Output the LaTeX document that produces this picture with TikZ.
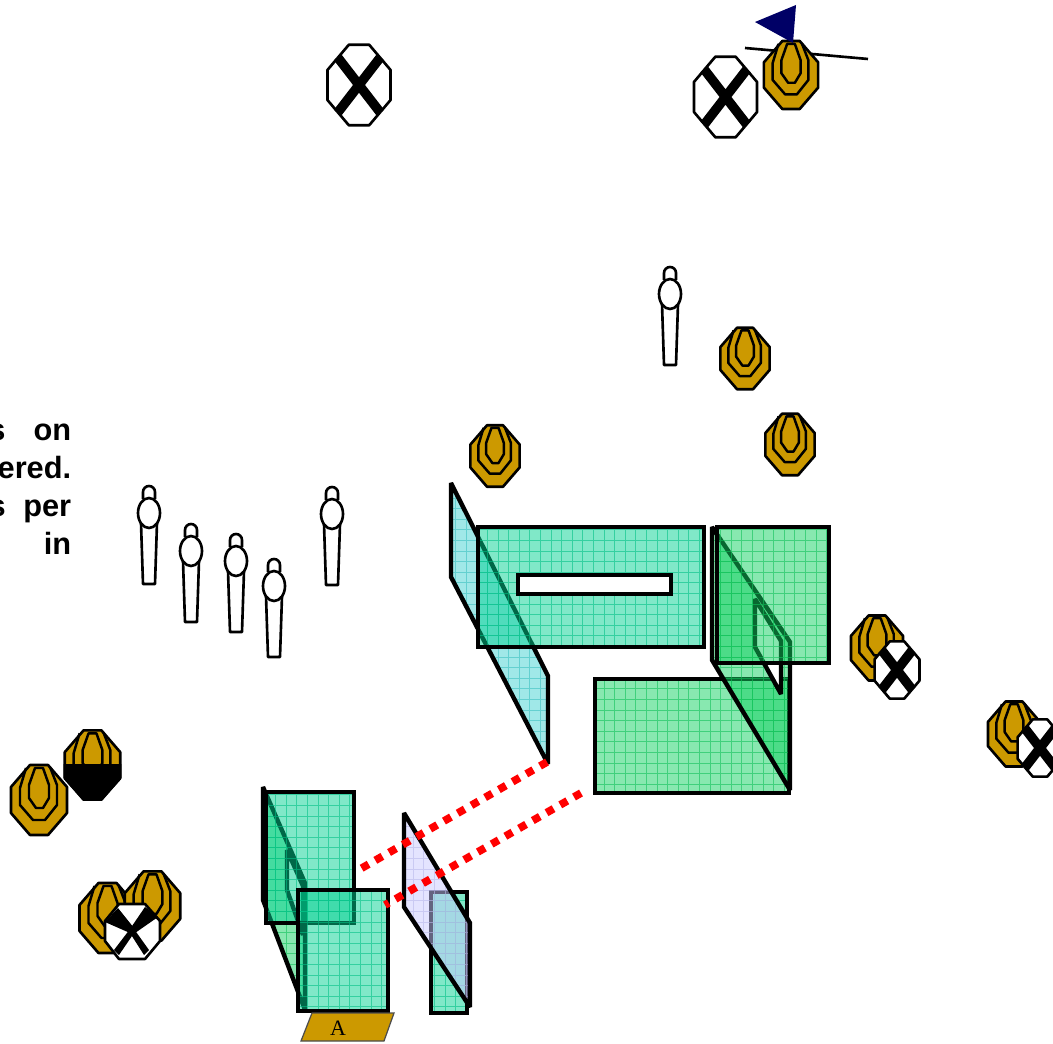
\documentclass[tikz,border=0pt]{standalone}
\usepackage{fontspec}
\setmainfont{Liberation Sans}
\newfontfamily\plateserif{Liberation Serif}
\definecolor{gold}  {RGB}{204,153,  0}
\definecolor{navyf} {RGB}{  0,  0,102}
\definecolor{tealp} {RGB}{  1,209,145}
\definecolor{greenp}{RGB}{ 17,209, 97}
\definecolor{cyanp} {RGB}{ 65,209,209}
\definecolor{lilacp}{RGB}{201,201,255}
\tikzset{
  % Glass panel with a grid on it
  Panel/.style={draw=black,line width=2.5pt,line join=miter,miter limit=2,fill=#1,fill opacity=0.5,
                path picture={\draw[#1!92!black,line width=0.5pt,step=0.212cm,draw opacity=0.6]
                  (path picture bounding box.south west) grid
                  (path picture bounding box.north east);}},
  % White opening in a panel
  Hole/.style={draw=black,line width=2.5pt,line join=miter,miter limit=2,fill=white},
  % Dotted sight line
  Sight/.style={red,line width=4.4pt,dash pattern=on 4.6pt off 4.4pt},
  % Gold target, half size 28 x 35
  target/.pic={
    \draw[fill=gold,line width=1.5pt,line join=round]
      (-9,-35) -- (9,-35) -- (28,-13) -- (28,13) -- (9,35) -- (-9,35) -- (-28,13) -- (-28,-13) -- cycle;
    \draw[line width=1.4pt,line join=round]
      (-13,-32) -- (-19,-12) -- (-19,5) -- (-6,20) -- (6,20) -- (18,5) -- (18,-15) -- (11,-33);
    \draw[line width=1.4pt,line join=round]
      (-4,-32) -- (-10,-15) -- (-10,-2) -- (-3,8) -- (4,8) -- (10,-2) -- (10,-15) -- (4,-32) -- cycle;
  },
  % White octagon with a cross, half size 32.5 x 41.5
  xtarget/.pic={
    \draw[fill=white,line width=1.5pt,line join=round]
      (-10.5,-41.5) -- (10.5,-41.5) -- (32.5,-15.5) -- (32.5,15.5) -- (10.5,41.5) -- (-10.5,41.5) -- (-32.5,15.5) -- (-32.5,-15.5) -- cycle;
    \draw[line width=5.4pt] (-22,-28.5) -- (22,28.5) (22,-28.5) -- (-22,28.5);
  },
  % Simple standing figure
  figure/.pic={
    \draw[fill=white,line width=1.5pt] (-6,-14) -- (-6,-21) arc[start angle=180,end angle=360,radius=6] -- (6,-14);
    \draw[fill=white,line width=1.5pt,line join=round] (-8,10) -- (-6,71) -- (6,71) -- (8,10) -- cycle;
    \draw[fill=white,line width=1.5pt] (0,0) ellipse[x radius=11,y radius=15];
  },
}

\begin{document}
\begin{tikzpicture}[x=0.02cm,y=-0.02cm]
  \useasboundingbox (0,0) rectangle (1053,1043);
  % Text cut by the left margin
  \node[anchor=north east,inner sep=0pt,align=right,font=\bfseries\fontsize{17.5}{21.5}\selectfont]
    at (71.5,424) (note)
    {s\hspace{16pt}on\\ered.\\s\hspace{10pt}per\\in};

  % Top row, flag line under the target
  \coordinate (flagL) at (745,48);
  \coordinate (flagR) at (868,59);
  \draw[line width=1.5pt] (flagL) -- (flagR);
  \pic[scale=0.97] at (359,85) {xtarget};
  \pic[scale=0.97] at (725.5,97) {xtarget};
  \pic[scale=0.97] at (791,75) {target};
  \fill[navyf] (755,22) -- (796,5) -- (793,43) -- cycle;

  % Targets standing alone
  \pic[scale=0.88] at (745,358.5) {target};
  \pic[scale=0.88] at (790,444.5) {target};
  \pic[scale=0.88] at (495,456) {target};
  \pic[scale=1.0] at (39,800) {target};

  % Target half in black
  \pic[scale=0.99] at (92.5,765) {target};
  \begin{scope}
    \clip (60,764) rectangle (125,805);
    \fill[black,draw=black,line width=1.5pt,line join=round]
      (84,730) -- (101,730) -- (120,751.5) -- (120,778.5) -- (101,799.5) -- (84,799.5) -- (65,778.5) -- (65,751.5) -- cycle;
  \end{scope}

  % Group at lower left, cross thinning to the bottom
  \pic[scale=1.0] at (107.5,918) {target};
  \pic[scale=0.99] at (152.5,906) {target};
  \draw[fill=white,line width=1.5pt,line join=round]
    (119,904) -- (145,904) -- (160,921) -- (160,941) -- (145,959) -- (119,959) -- (105,941) -- (105,921) -- cycle;
  \fill (105,922) -- (118,908) -- (134,928) -- (130,933) -- cycle;
  \fill (145,907) -- (158,917) -- (135,933) -- (130,929) -- cycle;
  \fill (114,950) -- (119,955) -- (134,933) -- (130,929) -- cycle;
  \fill (149,950) -- (144,955) -- (130,933) -- (134,929) -- cycle;

  % Pairs of target and cross
  \pic[scale=0.93] at (877,648) {target};
  \pic[scale=0.69] at (897,670) {xtarget};
  \pic[scale=0.93] at (1014,734) {target};
  \pic[scale=0.69] at (1040,748) {xtarget};

  % Figures
  \foreach \px/\py in {149/513,191/551,236/561,274/586,332/514,670/294}
    \pic at (\px,\py) {figure};

  % Middle panels
  \path[Panel=cyanp] (451,483) -- (548,676) -- (548,764) -- (451,577) -- cycle;
  \path[Panel=tealp] (478,527) rectangle (704,647);
  \path[Hole] (518,575) rectangle (671,594);

  % Right panels
  \path[Panel=greenp] (595,679) rectangle (789,793);
  \path[Panel=greenp] (712,527) -- (790,642) -- (790,790) -- (712,660) -- cycle;
  \path[Hole] (755,599) -- (781,641) -- (781,694) -- (755,647) -- cycle;
  \path[Panel=greenp] (717,527) rectangle (829,663);

  % Lower panels
  \path[Panel=greenp] (263,787) -- (305,883) -- (305,1010) -- (263,900) -- cycle;
  \path[Hole] (287,850) -- (303,886) -- (303,935) -- (287,890) -- cycle;
  \path[Panel=tealp] (266,792) rectangle (354,923);
  \path[Panel=tealp] (298,890) rectangle (388,1011);
  \path[Panel=tealp] (431,892) rectangle (467,1013);
  \path[Panel=lilacp] (404,813) -- (470,923) -- (470,1007) -- (404,907) -- cycle;

  % Plate
  \draw[fill=gold,draw=black!70,line width=0.7pt] (312,1013) -- (394,1013) -- (384,1041) -- (301,1041) -- cycle;
  \node[font=\plateserif\fontsize{12.5}{14}\selectfont,inner sep=0pt] at (338,1028) (plate) {A};

  % Sight lines
  \coordinate (s1a) at (547,762);
  \coordinate (s1b) at (355,872);
  \coordinate (s2a) at (581,793);
  \coordinate (s2b) at (385,905);
  \draw[Sight] (s1a) -- (s1b);
  \draw[Sight] (s2a) -- (s2b);
\end{tikzpicture}
\end{document}
